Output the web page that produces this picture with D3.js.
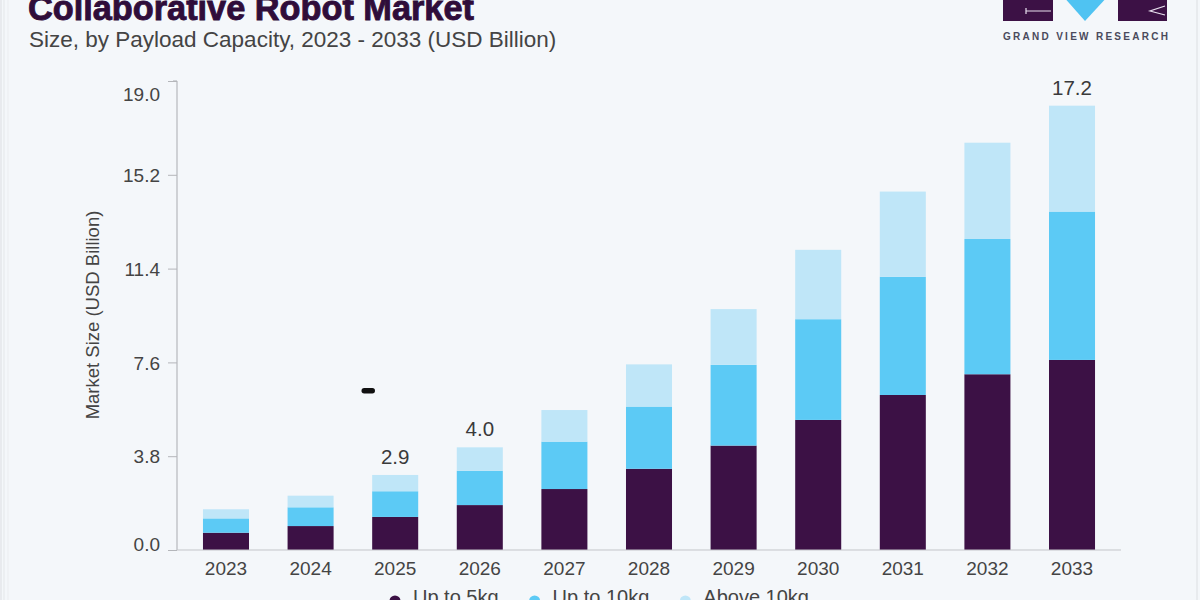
<!DOCTYPE html>
<html>
<head>
<meta charset="utf-8">
<script src="https://cdn.jsdelivr.net/npm/d3@7"></script>
<style>
  html, body { margin: 0; padding: 0; background: #f4f7fa; }
  svg { display: block; font-family: "Liberation Sans", Arial, sans-serif; }
</style>
</head>
<body>
<svg id="chart" width="1200" height="600"></svg>
<script>
// Data (USD Billion, axis units)
const years = ["2023", "2024", "2025", "2026", "2027", "2028", "2029", "2030", "2031", "2032", "2033"];
const upTo5kg = [0.70, 0.97, 1.34, 1.82, 2.47, 3.29, 4.23, 5.27, 6.28, 7.12, 7.70];
const upTo10kg = [0.58, 0.76, 1.04, 1.39, 1.92, 2.52, 3.27, 4.08, 4.79, 5.48, 6.01];
const above10kg = [0.37, 0.47, 0.66, 0.95, 1.28, 1.71, 2.26, 2.81, 3.45, 3.90, 4.29];
const totalLabels = [null, null, "2.9", "4.0", null, null, null, null, null, null, "17.2"];
const seriesNames = ["Up to 5kg", "Up to 10kg", "Above 10kg"];
const seriesColors = ["#3c1145", "#5ccaf5", "#bfe6f8"];
const yTicks = [0, 3.8, 7.6, 11.4, 15.2, 19.0];

const svg = d3.select("#chart");

// faint left edge of the original image
[[1, "#dfe2e6"], [4, "#e6e9ec"], [8, "#eceff2"]].forEach(([x, c]) => {
  svg.append("line").attr("x1", x).attr("x2", x).attr("y1", 0).attr("y2", 600)
    .attr("stroke", c).attr("stroke-width", 1.2);
});
svg.append("line").attr("x1", 1197).attr("x2", 1197).attr("y1", 0).attr("y2", 600)
  .attr("stroke", "#e4e7ea").attr("stroke-width", 1.5);

// Title block
svg.append("text").attr("x", 28).attr("y", 19.5)
  .attr("fill", "#2f0d3a").attr("font-size", 34.3).attr("font-weight", "bold")
  .attr("stroke", "#2f0d3a").attr("stroke-width", 0.9)
  .text("Collaborative Robot Market");

svg.append("text").attr("x", 29).attr("y", 46.5)
  .attr("fill", "#444").attr("font-size", 22.5)
  .text("Size, by Payload Capacity, 2023 - 2033 (USD Billion)");

// Logo (top right, cut off)
const logo = svg.append("g");
logo.append("rect").attr("x", 1003).attr("y", -5).attr("width", 50).attr("height", 26).attr("fill", "#3c1145");
logo.append("rect").attr("x", 1118).attr("y", -5).attr("width", 49).attr("height", 26).attr("fill", "#3c1145");
logo.append("path").attr("d", "M1062,-5 L1109,-5 L1085,21 Z").attr("fill", "#4fc3f2");
logo.append("path").attr("d", "M1026,8 L1026,14 M1026,11 L1051,11")
  .attr("stroke", "#e8e0ee").attr("stroke-width", 1.2).attr("fill", "none");
logo.append("path").attr("d", "M1165,6 L1150,11 L1165,15")
  .attr("stroke", "#e8e0ee").attr("stroke-width", 1.2).attr("fill", "none");
logo.append("text").attr("x", 1003).attr("y", 40)
  .attr("fill", "#4a4a5c").attr("font-size", 10).attr("font-weight", "bold")
  .attr("textLength", 165).attr("lengthAdjust", "spacing")
  .text("GRAND VIEW RESEARCH");

// Scales
const x = d3.scaleBand().domain(years).range([177, 1121]).paddingInner(0.456).paddingOuter(0.307);
const y = d3.scaleLinear().domain([0, 19]).range([550, 81]);

// Stack
const rows = years.map((yr, i) => ({ year: yr, a: upTo5kg[i], b: upTo10kg[i], c: above10kg[i] }));
const stack = d3.stack().keys(["a", "b", "c"])(rows);

svg.append("g").selectAll("g").data(stack).join("g")
  .attr("fill", (d, i) => seriesColors[i])
  .selectAll("rect").data(d => d).join("rect")
  .attr("x", d => x(d.data.year))
  .attr("width", x.bandwidth())
  .attr("y", d => y(d[1]))
  .attr("height", d => y(d[0]) - y(d[1]));

// Total labels
const topLayer = stack[stack.length - 1];
svg.append("g").selectAll("text").data(topLayer.filter((d, i) => totalLabels[i])).join("text")
  .attr("x", d => x(d.data.year) + x.bandwidth() / 2)
  .attr("y", d => y(d[1]) - 11)
  .attr("text-anchor", "middle").attr("font-size", 20.5).attr("fill", "#3a3a3a")
  .text(d => totalLabels[years.indexOf(d.data.year)]);

// Y axis
const yAxis = svg.append("g").attr("transform", "translate(177,0)")
  .call(d3.axisLeft(y).tickValues(yTicks).tickFormat(d3.format(".1f")).tickSize(9).tickPadding(8));
yAxis.select(".domain").attr("stroke", "#a9abb0").attr("d", "M-4,81H0V550");
yAxis.selectAll(".tick line").attr("stroke", "#b4b6ba");
yAxis.selectAll(".tick text").attr("font-size", 19).attr("fill", "#444").attr("font-family", null)
  .attr("dy", d => d === 19 ? "1.05em" : d === 0 ? "0.05em" : "0.35em");

// X axis
const xAxis = svg.append("g").attr("transform", "translate(0,550)")
  .call(d3.axisBottom(x).tickSize(0).tickPadding(12));
xAxis.select(".domain").attr("stroke", "#c3c5c9").attr("d", "M177,0H1121");
xAxis.selectAll(".tick text").attr("font-size", 19).attr("fill", "#444").attr("font-family", null)
  .attr("dy", "0.71em");

// Y axis title
svg.append("text").attr("transform", "translate(99,315) rotate(-90)")
  .attr("text-anchor", "middle").attr("font-size", 18.5).attr("fill", "#444")
  .text("Market Size (USD Billion)");

// stray mark in the original image
svg.append("rect").attr("x", 361.5).attr("y", 388).attr("width", 13.5).attr("height", 5.5)
  .attr("rx", 2.7).attr("fill", "#111");

// Legend (bottom, cut off by frame as in the original)
const legend = svg.append("g");
let lx = 395;
seriesNames.forEach((name, i) => {
  legend.append("circle").attr("cx", lx).attr("cy", 601).attr("r", 5.5).attr("fill", seriesColors[i]);
  const t = legend.append("text").attr("x", lx + 18).attr("y", 604)
    .attr("font-size", 20).attr("fill", "#444").text(name);
  lx += 18 + t.node().getComputedTextLength() + 36;
});
</script>
</body>
</html>
